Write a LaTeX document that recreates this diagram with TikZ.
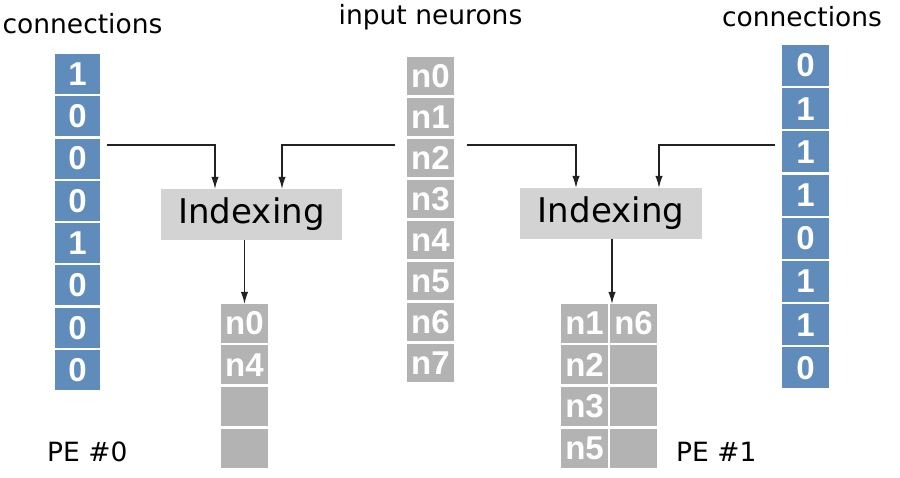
\documentclass[tikz,border=0pt]{standalone}
\usepackage{fontspec}
\setmainfont{DejaVu Sans}
\newfontfamily\cellfont{Liberation Sans}
\usetikzlibrary{arrows.meta}
\definecolor{cblue}{HTML}{5F8CBA}
\definecolor{cgrey}{HTML}{B3B3B3}
\definecolor{igrey}{HTML}{D3D3D3}
\definecolor{lgrey}{HTML}{222222}
\tikzset{
  cellbase/.style={inner sep=0pt, text=white, font=\cellfont\bfseries\fontsize{33}{35}\selectfont},
  bluecell/.style={cellbase, fill=cblue, minimum width=45pt, minimum height=40pt},
  bluecellR/.style={cellbase, fill=cblue, minimum width=47pt, minimum height=41pt},
  greycell/.style={cellbase, fill=cgrey, minimum width=47pt, minimum height=38.5pt},
  outcell/.style={cellbase, fill=cgrey, minimum width=47pt, minimum height=39pt},
  idxbox/.style={fill=igrey, inner sep=0pt, font=\fontsize{34}{36}\selectfont},
  lbl/.style={anchor=base, inner sep=0pt, font=\fontsize{26.5}{28}\selectfont},
  arr/.style={draw=lgrey, line width=1.3pt, -{Latex[length=12pt,width=7.5pt]}},
}
\begin{document}
\begin{tikzpicture}[x=1pt,y=-1pt]
\useasboundingbox (0,0) rectangle (900,478);
% labels
\node[lbl] (tc1) at (82.5,34) {connections};
\node[lbl] (tin) at (430.5,25) {input neurons};
\node[lbl] (tc2) at (802,27) {connections};
\node[lbl, anchor=base west] (pe0) at (47,461) {PE \#0};
\node[lbl, anchor=base west] (pe1) at (676,461) {PE \#1};
% left connections column
\foreach \v [count=\i from 0] in {1,0,0,0,1,0,0,0}
  \node[bluecell] (L\i) at (77.5,{74+42.3*\i}) {\v};
% input neurons column
\foreach \i in {0,...,7}
  \node[greycell] (N\i) at (430.5,{76.25+41*\i}) {n\i};
% right connections column
\foreach \v [count=\i from 0] in {0,1,1,1,0,1,1,0}
  \node[bluecellR] (R\i) at (805.5,{65.5+43.2*\i}) {\v};
% indexing boxes
\node[idxbox, minimum width=181pt, minimum height=51pt] (idxL) at (251.5,214.5) {Indexing};
\node[idxbox, minimum width=182pt, minimum height=51pt] (idxR) at (611,213.5) {Indexing};
% left output
\foreach \t [count=\i from 0] in {n0,n4,{},{}}
  \node[outcell] (OL\i) at (244.5,{323.5+41.5*\i}) {\t};
% right output
\foreach \t [count=\i from 0] in {n1,n2,n3,n5}
  \node[outcell] (OA\i) at (584.5,{323.5+41.5*\i}) {\t};
\foreach \t [count=\i from 0] in {n6,{},{},{}}
  \node[outcell] (OB\i) at (633.5,{323.5+41.5*\i}) {\t};
% connector coordinates
\coordinate (s1) at (107,145);
\coordinate (s2) at (395,145);
\coordinate (s3) at (467,145);
\coordinate (s4) at (775,145);
\coordinate (t1) at (215,0);
\coordinate (t2) at (282,0);
\coordinate (t3) at (576,0);
\coordinate (t4) at (659,0);
\coordinate (d1) at (244.5,0);
\coordinate (d2) at (612,0);
% connectors
\draw[arr] (s1) -| (idxL.north -| t1);
\draw[arr] (s2) -| (idxL.north -| t2);
\draw[arr] (s3) -| (idxR.north -| t3);
\draw[arr] (s4) -| (idxR.north -| t4);
\draw[arr] (idxL.south -| d1) -- (OL0.north -| d1);
\draw[arr] (idxR.south -| d2) -- (OA0.north -| d2);
\end{tikzpicture}
\end{document}
